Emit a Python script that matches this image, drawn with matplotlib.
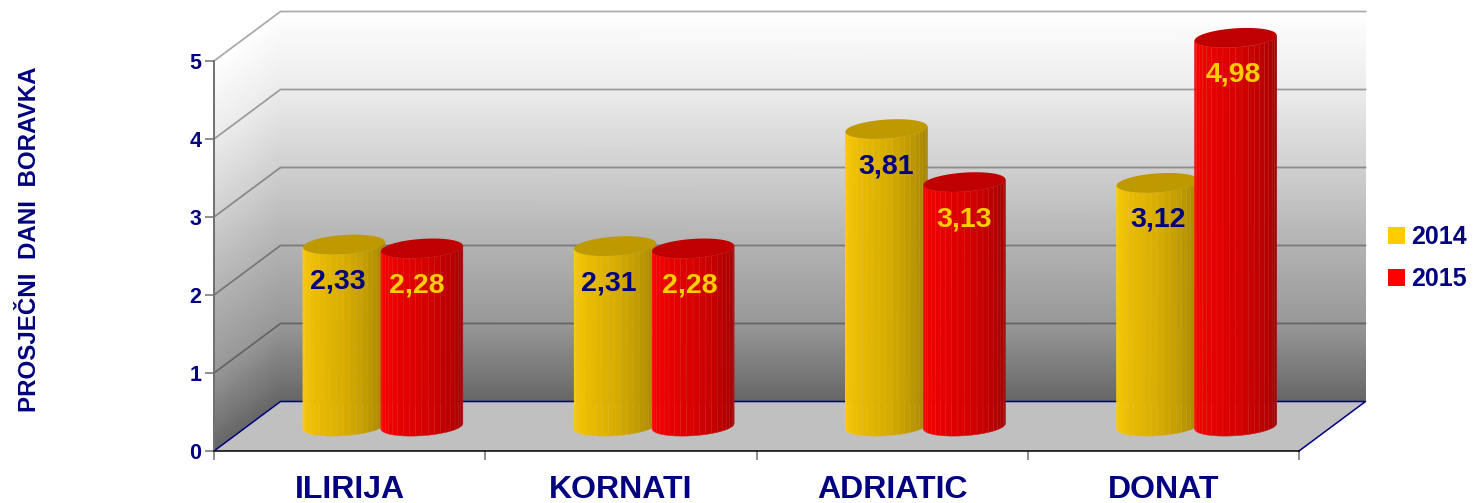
import numpy as np
import matplotlib
matplotlib.use("Agg")
import matplotlib.pyplot as plt
from matplotlib.patches import Polygon, Patch
from matplotlib.colors import LinearSegmentedColormap

plt.rcParams['font.family'] = ['Liberation Sans', 'DejaVu Sans']

categories = ['ILIRIJA', 'KORNATI', 'ADRIATIC', 'DONAT']
series_names = ['2014', '2015']
values_2014 = [2.33, 2.31, 3.81, 3.12]
values_2015 = [2.28, 2.28, 3.13, 4.98]
labels_2014 = ['2,33', '2,31', '3,81', '3,12']
labels_2015 = ['2,28', '2,28', '3,13', '4,98']
y_ticks = [0, 1, 2, 3, 4, 5]

NAVY = '#000080'
GOLD = '#FFCC00'
RED = '#FF0000'
W, H = 1474, 503
X0, X1, Y0, Y5 = 214, 1299, 451, 61

fig = plt.figure(figsize=(W / 100, H / 100), dpi=100)
fig.patch.set_facecolor('white')
ax = fig.add_axes([X0 / W, 1 - Y0 / H, (X1 - X0) / W, (Y0 - Y5) / H])
ax.patch.set_visible(False)

px_x = (X1 - X0) / 4.0
px_y = (Y0 - Y5) / 5.0
DX = 66.5 / px_x
DY = 49.5 / px_y

# wall gradient: (value height fraction, gray level)
grad_pos = np.array([0.0, 0.20, 0.48, 0.60, 0.80, 1.0])
grad_lvl = np.array([102, 152, 190, 208, 236, 255]) / 255.0
cmap = LinearSegmentedColormap.from_list('wall', list(zip(grad_pos, [(g, g, g) for g in grad_lvl])))
vv = np.linspace(0, 5, 60)

# back wall
bx, by = np.meshgrid([0 + DX, 4 + DX], vv + DY)
cc = np.tile(vv[:, None] / 5.0, (1, 2))
m = ax.pcolormesh(bx, by, cc, shading='gouraud', cmap=cmap, vmin=0, vmax=1, zorder=1)
m.set_clip_on(False)
# left wall
lx = np.tile([0, DX], (len(vv), 1))
ly = np.column_stack([vv, vv + DY])
m = ax.pcolormesh(lx, ly, cc, shading='gouraud', cmap=cmap, vmin=0, vmax=1, zorder=1)
m.set_clip_on(False)
# floor
ax.add_patch(Polygon([[0, 0], [4, 0], [4 + DX, DY], [DX, DY]], closed=True,
                     facecolor='#C0C0C0', edgecolor='none', zorder=1.2, clip_on=False))
# gridlines
for v in y_ticks[1:]:
    ax.plot([0, DX, 4 + DX], [v, v + DY, v + DY], color='black', alpha=0.33, lw=1.3,
            zorder=1.5, clip_on=False)
ax.plot([0, DX, 4 + DX, 4], [0, DY, DY, 0], color=NAVY, lw=1.1, zorder=1.6, clip_on=False)

# cylinders
HALF_W = 41 / px_x
ELL_B = 9.5 / px_y
ELL_K = 2.7 / px_y
OFFSET = 39 / px_x
N_FACETS = 20
TH = np.linspace(0, np.pi, N_FACETS + 1)
LABEL_DX = [[-6, -6, 0, 0], [-5, -3, 0, -2]]   # px
LABEL_DY = 37                                   # px below top centre


def edge(cx, cy, th):
    return cx - HALF_W * np.cos(th), cy - ELL_K * np.cos(th) - ELL_B * np.sin(th)


def cylinder(cx, val, rgb, top_color, z):
    base = DY / 2
    top = base + val
    for a, b in zip(TH[:-1], TH[1:]):
        frac = (a + b) / 2 / np.pi
        s = np.interp(frac, [0, 0.5, 1], [1.0, 0.85, 0.60])
        col = np.array(rgb) * s
        seam = col + 0.10 * (1 - col)
        xa, ya = edge(cx, base, a)
        xb, yb = edge(cx, base, b)
        xc, yc = edge(cx, top, b)
        xd, yd = edge(cx, top, a)
        ax.add_patch(Polygon([[xa, ya], [xb, yb], [xc, yc], [xd, yd]], closed=True,
                             facecolor=tuple(col), edgecolor=tuple(seam), linewidth=0.35,
                             zorder=z, clip_on=False))
    t = np.linspace(0, 2 * np.pi, 120)
    ex, ey = edge(cx, top, t)
    ax.add_patch(Polygon(np.column_stack([ex, ey]), closed=True, facecolor=top_color,
                         edgecolor='none', zorder=z + 0.01, clip_on=False))


YEL = (1.0, 0.8, 0.0)
RD = (1.0, 0.0, 0.0)
for i in range(len(categories)):
    c = i + 0.5 + DX / 2
    cylinder(c - OFFSET, values_2014[i], YEL, '#BF9900', 3 + i * 0.1)
    cylinder(c + OFFSET, values_2015[i], RD, '#C00000', 3.05 + i * 0.1)
    ax.annotate(labels_2014[i], (c - OFFSET, DY / 2 + values_2014[i]),
                xytext=(LABEL_DX[0][i] * 0.72, -LABEL_DY * 0.72), textcoords='offset points',
                ha='center', va='center', color=NAVY, fontsize=20.5, fontweight='bold',
                zorder=5, annotation_clip=False)
    ax.annotate(labels_2015[i], (c + OFFSET, DY / 2 + values_2015[i]),
                xytext=(LABEL_DX[1][i] * 0.72, -LABEL_DY * 0.72), textcoords='offset points',
                ha='center', va='center', color=GOLD, fontsize=20.5, fontweight='bold',
                zorder=5, annotation_clip=False)

# axes
ax.set_xlim(0, 4)
ax.set_ylim(0, 5)
for s in ['top', 'right']:
    ax.spines[s].set_visible(False)
ax.spines['left'].set_color('#707070')
ax.spines['left'].set_linewidth(1.4)
ax.spines['bottom'].set_color('black')
ax.spines['bottom'].set_linewidth(1.1)
ax.set_yticks(y_ticks)
ax.set_yticklabels([str(v) for v in y_ticks], fontsize=15.5, fontweight='bold', color=NAVY)
ax.tick_params(axis='y', length=6.5, width=1.1, color='#707070', pad=2.5)
ax.set_xticks(range(5))
ax.set_xticklabels([''] * 5)
ax.tick_params(axis='x', which='major', length=6.5, width=1.1, color='#707070')
ax.set_xticks(np.arange(len(categories)) + 0.5, minor=True)
ax.set_xticklabels(categories, minor=True, fontsize=23, fontweight='bold', color=NAVY)
ax.tick_params(axis='x', which='minor', length=0, pad=17.5)

fig.text(29.5 / W, 1 - 239 / H, 'PROSJEČNI  DANI  BORAVKA', rotation=90, ha='center', va='center',
         fontsize=17.4, fontweight='bold', color=NAVY)

handles = [Patch(facecolor=GOLD, edgecolor='none', label=series_names[0]),
           Patch(facecolor=RED, edgecolor='none', label=series_names[1])]
leg = fig.legend(handles=handles, loc='upper left', bbox_to_anchor=(1388 / W, 1 - 225 / H),
                 frameon=False, handlelength=0.68, handleheight=0.68,
                 handletextpad=0.25, labelspacing=0.72, borderpad=0, borderaxespad=0,
                 labelcolor=NAVY, prop={'size': 18, 'weight': 'bold'})

fig.savefig('out.png', dpi=100, facecolor='white')
